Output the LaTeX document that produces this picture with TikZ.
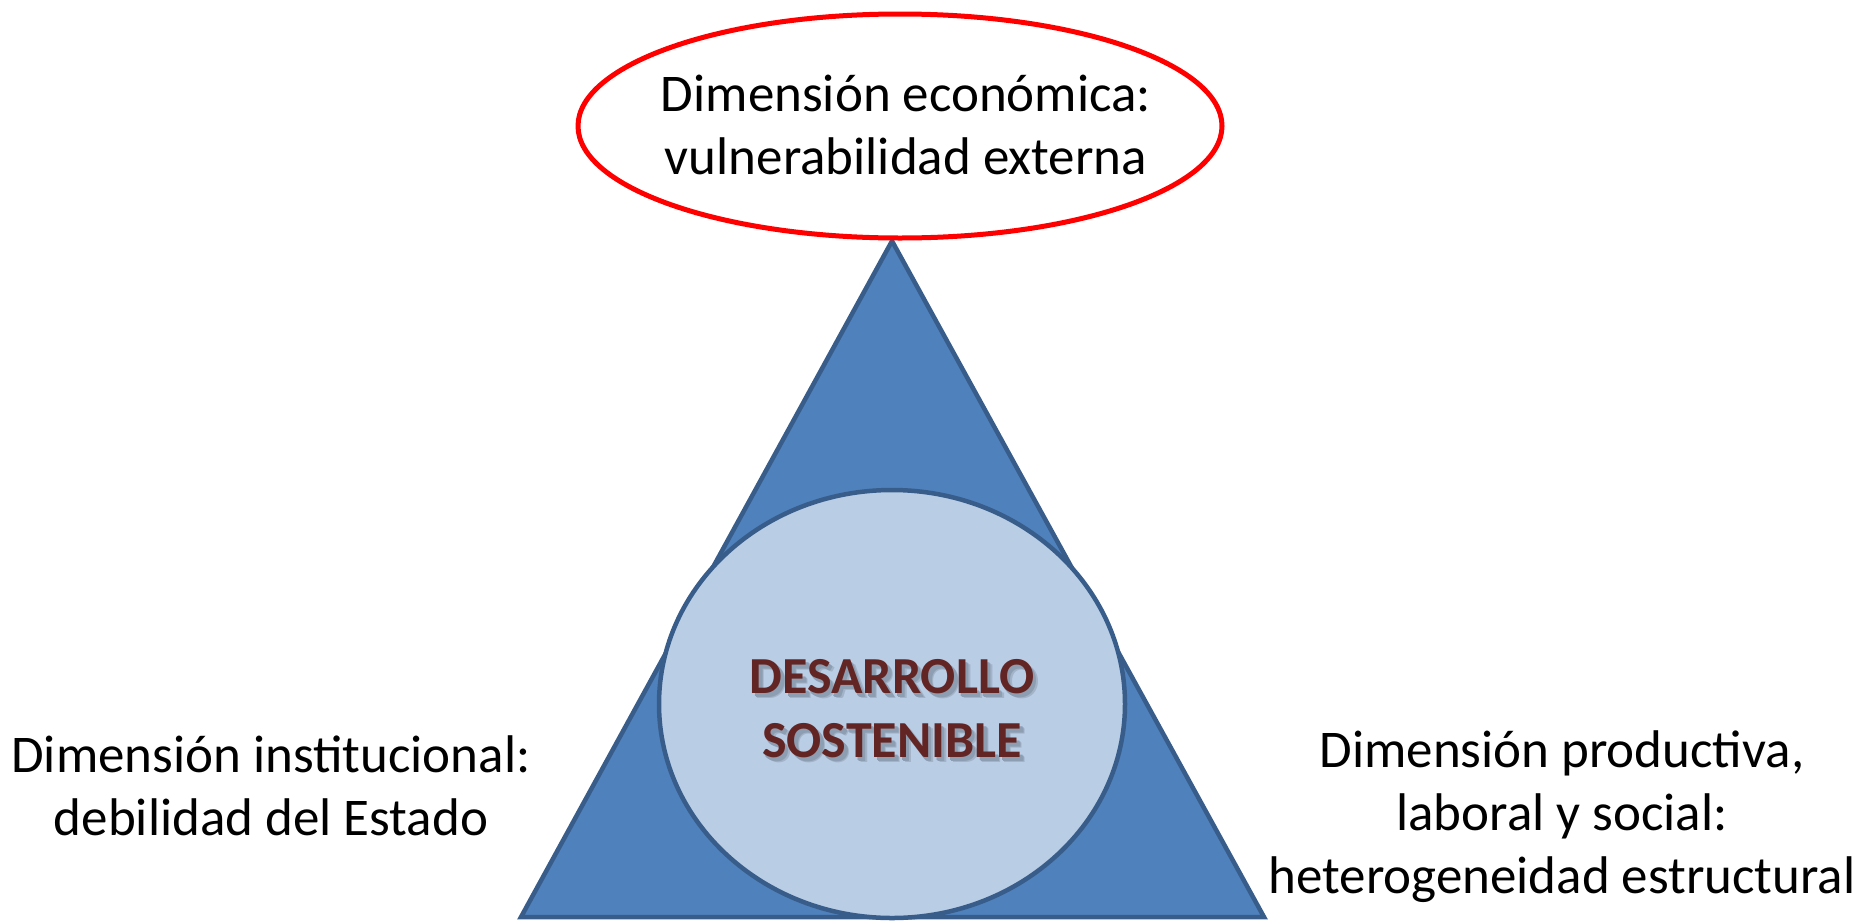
\documentclass[tikz,border=0pt]{standalone}
\usepackage{fontspec}
\setmainfont{Carlito}
\usetikzlibrary{shapes.geometric}
\definecolor{triblue}{HTML}{4F81BD}
\definecolor{triedge}{HTML}{385D8A}
\definecolor{innerblue}{HTML}{B9CDE5}
\definecolor{dred}{HTML}{632523}
\definecolor{shadefar}{HTML}{A3B4C9}
\definecolor{shadenear}{HTML}{8D9DB2}
\newcommand\coreblock{\begin{tabular}{@{}c@{}}DESARROLLO\\SOSTENIBLE\end{tabular}}
\newcommand\shadecopy[2]{\rlap{\kern#1pt\raisebox{-#1pt}[0pt][0pt]{\color{#2}\coreblock}}}
\begin{document}
\begin{tikzpicture}[x=1pt,y=-1pt,
  lbl/.style={align=center, font=\fontsize{53}{63}\selectfont, inner sep=0pt},
  core/.style={font=\fontsize{52}{64}\selectfont\bfseries, inner sep=0pt}]
\useasboundingbox (0,0) rectangle (1870,921);
\coordinate (apex) at (892,241);
\coordinate (bl) at (521,917);
\coordinate (br) at (1264,917);
\draw[triedge, line width=4.5pt, fill=triblue, line join=miter] (apex) -- (br) -- (bl) -- cycle;
\node[ellipse, draw=triedge, line width=4.5pt, fill=innerblue, minimum width=466pt, minimum height=428pt, inner sep=0pt] (coreell) at (892,704) {};
\node[ellipse, draw=red, line width=5pt, fill=white, minimum width=644pt, minimum height=224pt, inner sep=0pt] (eco) at (900,126) {};
\node[lbl] (ecotext) at (906,125) {Dimensión económica:\\vulnerabilidad externa};
\node[lbl] (inst) at (271,786) {Dimensión institucional:\\debilidad del Estado};
\node[lbl] (prod) at (1562,817) {Dimensión productiva,\\laboral y social:\\heterogeneidad estructural};
\node[core] (coretext) at (892,713) {\shadecopy{5}{shadefar}\shadecopy{3.5}{shadenear}\shadecopy{2.5}{shadenear}{\color{dred}\coreblock}};
\end{tikzpicture}
\end{document}
